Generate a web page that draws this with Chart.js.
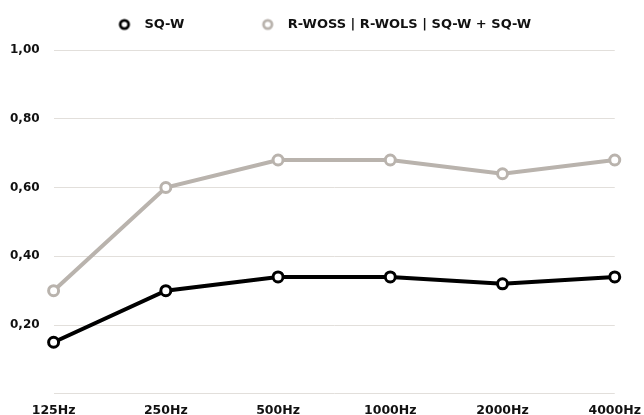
<!DOCTYPE html>
<html>
<head>
<meta charset="utf-8">
<script src="https://cdn.jsdelivr.net/npm/chart.js@4/dist/chart.umd.min.js"></script>
<style>
html,body{margin:0;padding:0;background:#fff;}
#wrap{width:644px;height:415px;position:relative;}
</style>
</head>
<body>
<div id="wrap"><canvas id="c"></canvas></div>
<script>
const categories = ['125Hz','250Hz','500Hz','1000Hz','2000Hz','4000Hz'];
const seriesSQW = [0.15, 0.30, 0.34, 0.34, 0.32, 0.34];
const seriesCombo = [0.30, 0.60, 0.68, 0.68, 0.64, 0.68];
const seriesNames = ['SQ-W', 'R-WOSS | R-WOLS | SQ-W + SQ-W'];
const yTicks = [0, 0.2, 0.4, 0.6, 0.8, 1.0];

const FONT = '"DejaVu Sans", sans-serif';
const black = '#000000';
const grey = '#b9b3ad';
const colors = [black, grey];
const LEGEND_GAP = 70;
const LEGEND_H = 50;
const LEGEND_DX = 1;
const LEGEND_DY = 18 - LEGEND_GAP;

function makeCircle(color) {
  const c = document.createElement('canvas');
  c.width = 14; c.height = 14;
  const x = c.getContext('2d');
  x.beginPath();
  x.arc(7, 7, 4.2, 0, Math.PI * 2);
  x.fillStyle = '#fff';
  x.fill();
  x.lineWidth = 2.8;
  x.strokeStyle = color;
  x.stroke();
  return c;
}
const legendIcons = colors.map(makeCircle);

const legendFit = {
  id: 'legendFit',
  beforeLayout(chart) {
    const lg = chart.legend;
    if (lg && !lg._patched) {
      const f = lg.fit;
      lg.fit = function () { f.call(this); this.height = LEGEND_H; };
      const d = lg.draw;
      lg.draw = function (area) {
        const t = this.top, l = this.left, r = this.right;
        this.top = t + LEGEND_DY;
        this.left = l + LEGEND_DX;
        this.right = r + LEGEND_DX;
        d.call(this, area);
        this.top = t; this.left = l; this.right = r;
      };
      lg._patched = true;
    }
  }
};

new Chart(document.getElementById('c'), {
  type: 'line',
  data: {
    labels: categories,
    datasets: [
      {label: seriesNames[0], data: seriesSQW, borderColor: black, backgroundColor: '#fff',
       borderWidth: 4, pointRadius: 5, pointBorderWidth: 3, pointBackgroundColor: '#fff', pointBorderColor: black, tension: 0},
      {label: seriesNames[1], data: seriesCombo, borderColor: grey, backgroundColor: '#fff',
       borderWidth: 4, pointRadius: 5, pointBorderWidth: 3, pointBackgroundColor: '#fff', pointBorderColor: grey, tension: 0}
    ]
  },
  plugins: [legendFit],
  options: {
    responsive: true,
    maintainAspectRatio: false,
    animation: false,
    layout: {padding: {left: -4, right: 0, top: 0, bottom: -12}},
    plugins: {
      tooltip: {enabled: false},
      legend: {
        position: 'top',
        labels: {
          usePointStyle: true, pointStyleWidth: 27, boxHeight: 12,
          padding: LEGEND_GAP, color: '#111',
          font: {family: FONT, size: 13, weight: 'bold'},
          generateLabels(chart) {
            const items = Chart.defaults.plugins.legend.labels.generateLabels(chart);
            items.forEach((it, i) => { it.pointStyle = legendIcons[i]; });
            return items;
          }
        }
      }
    },
    scales: {
      x: {
        offset: false,
        afterFit: (s) => { s.paddingRight = Math.max(0, s.paddingRight - 6); },
        grid: {display: false, drawTicks: false},
        border: {display: false},
        ticks: {color: '#111', padding: 9, maxRotation: 0, font: {family: FONT, size: 12.5, weight: 'bold'}}
      },
      y: {
        min: 0, max: 1,
        afterBuildTicks: (s) => { s.ticks = yTicks.map(v => ({value: v})); },
        grid: {color: '#e2dfdb', lineWidth: 1, drawTicks: false},
        border: {display: false},
        ticks: {color: '#111', padding: 14,
          font: {family: FONT, size: 12, weight: 'bold'},
          callback: (v) => v === 0 ? '' : v.toFixed(2).replace('.', ',')}
      }
    }
  }
});
</script>
</body>
</html>
